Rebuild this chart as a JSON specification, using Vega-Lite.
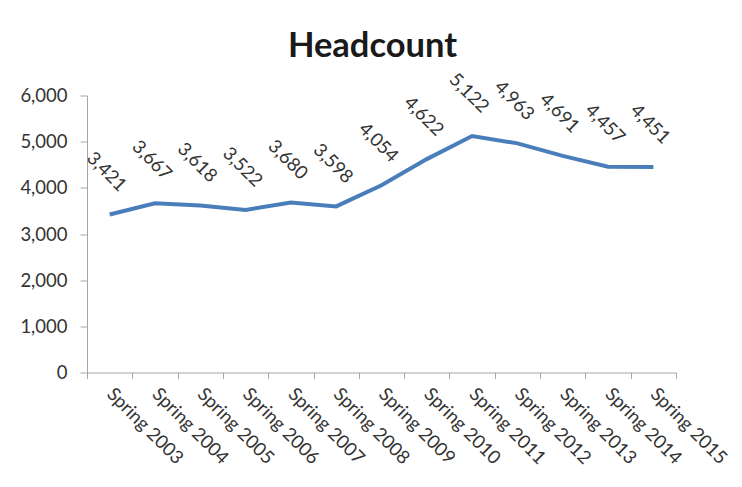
{
  "$schema": "https://vega.github.io/schema/vega-lite/v6.json",
  "width": 589,
  "height": 277,
  "autosize": {"type": "none"},
  "padding": {"left": 87, "top": 95.5, "right": 66, "bottom": 114.5},
  "background": "white",
  "title": {
    "text": "Headcount",
    "font": "Lato",
    "fontSize": 34.5,
    "fontWeight": "bold",
    "color": "#1a1a1a",
    "anchor": "middle",
    "frame": "group",
    "baseline": "alphabetic",
    "offset": -21,
    "dx": -9
  },
  "data": {
    "values": [
      {"term": "Spring 2003", "headcount": 3421},
      {"term": "Spring 2004", "headcount": 3667},
      {"term": "Spring 2005", "headcount": 3618},
      {"term": "Spring 2006", "headcount": 3522},
      {"term": "Spring 2007", "headcount": 3680},
      {"term": "Spring 2008", "headcount": 3598},
      {"term": "Spring 2009", "headcount": 4054},
      {"term": "Spring 2010", "headcount": 4622},
      {"term": "Spring 2011", "headcount": 5122},
      {"term": "Spring 2012", "headcount": 4963},
      {"term": "Spring 2013", "headcount": 4691},
      {"term": "Spring 2014", "headcount": 4457},
      {"term": "Spring 2015", "headcount": 4451}
    ]
  },
  "encoding": {
    "x": {
      "field": "term",
      "type": "ordinal",
      "sort": null,
      "bandPosition": 0.5,
      "scale": {"type": "band", "paddingInner": 0, "paddingOuter": 0},
      "axis": {
        "title": null,
        "tickBand": "extent",
        "labelAngle": 45,
        "labelAlign": "left",
        "labelBaseline": "middle",
        "labelFont": "Lato",
        "labelFontSize": 18.5,
        "labelColor": "#333333",
        "labelOverlap": false,
        "labelBound": false,
        "domainColor": "#a6a6a6",
        "tickColor": "#a6a6a6",
        "tickSize": 6,
        "labelPadding": 12,
        "grid": false
      }
    },
    "y": {
      "field": "headcount",
      "type": "quantitative",
      "scale": {"domain": [0, 6000]},
      "axis": {
        "title": null,
        "values": [0, 1000, 2000, 3000, 4000, 5000, 6000],
        "format": ",d",
        "labelFont": "Lato",
        "labelFontSize": 18.5,
        "labelColor": "#333333",
        "domainColor": "#a6a6a6",
        "tickColor": "#a6a6a6",
        "tickSize": 7,
        "labelPadding": 13,
        "grid": false
      }
    }
  },
  "layer": [
    {
      "mark": {"type": "line", "color": "#4a7ebb", "strokeWidth": 4}
    },
    {
      "mark": {
        "type": "text",
        "angle": 45,
        "align": "center",
        "baseline": "middle",
        "dx": -32.5,
        "dy": -28.3,
        "font": "Lato",
        "fontSize": 18.5,
        "color": "#333333"
      },
      "encoding": {
        "text": {"field": "headcount", "type": "quantitative", "format": ",d"}
      }
    }
  ],
  "config": {"view": {"stroke": null}}
}
